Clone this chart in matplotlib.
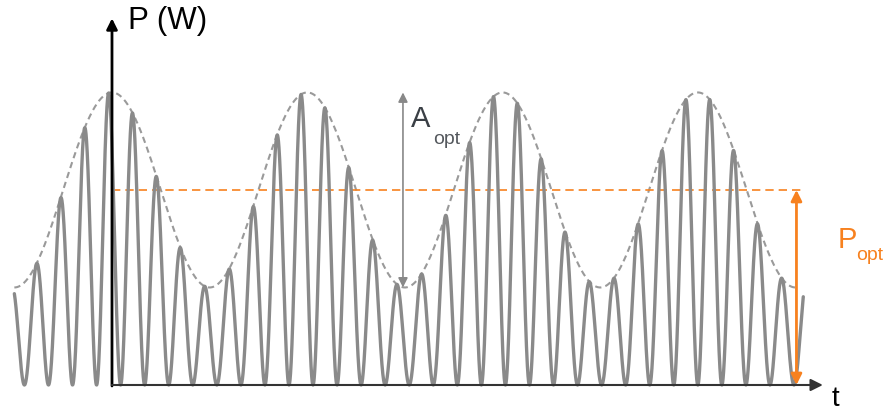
import numpy as np
import matplotlib
matplotlib.use("Agg")
import matplotlib.pyplot as plt

# --- chart parameters (schematic of modulated optical power) ---
P_opt = 1.0            # mean optical power (orange level)
A_opt = 1.0            # peak-to-peak envelope amplitude
env_periods = [-0.5, 3.5]   # envelope drawn from trough to trough
signal_span = [-0.5, 3.54]
carrier_cycles_per_period = 8.12
carrier_peak_phase = -0.51
x_axis_end = 3.64
y_axis_top = 1.88

labels = {"y": "P (W)", "x": "t", "A": "A", "P": "P", "sub": "opt"}

grey = "#8a8a8a"
orange = "#f7811f"

fig = plt.figure(figsize=(8.9, 4.13), dpi=100)
ax = fig.add_axes([0, 0, 1, 1])
ax.set_xlim(-0.5735, 3.984)
ax.set_ylim(-0.1436, 1.974)
ax.axis("off")

t_env = np.linspace(env_periods[0], env_periods[1], 2000)
env = P_opt + A_opt / 2 * np.cos(2 * np.pi * t_env)

t_sig = np.linspace(signal_span[0], signal_span[1], 6000)
env_s = P_opt + A_opt / 2 * np.cos(2 * np.pi * t_sig)
sig = env_s * (1 + np.cos(2 * np.pi * carrier_cycles_per_period * (t_sig - carrier_peak_phase))) / 2

ax.plot(t_sig, sig, color=grey, lw=2.4, zorder=3, solid_capstyle="round")
ax.plot(t_env, env, color="#9a9a9a", lw=1.5, ls=(0, (3, 2)), zorder=2)

# orange mean-power line
ax.plot([0, signal_span[1]], [P_opt, P_opt], color=orange, lw=1.2, ls=(0, (5, 3)), zorder=2)

# axes with arrows
ax.annotate("", xy=(0, y_axis_top), xytext=(0, -0.005),
            arrowprops=dict(arrowstyle="-|>", color="black", lw=2, mutation_scale=16,
                            shrinkA=0, shrinkB=0), zorder=5)
ax.annotate("", xy=(x_axis_end, 0), xytext=(0, 0),
            arrowprops=dict(arrowstyle="-|>", color="#333333", lw=1.5, mutation_scale=18,
                            shrinkA=0, shrinkB=0), zorder=5)

# A_opt arrow
xa = 1.49
ax.annotate("", xy=(xa, P_opt + A_opt / 2), xytext=(xa, P_opt - A_opt / 2),
            arrowprops=dict(arrowstyle="<|-|>", color="#888888", lw=1.2, mutation_scale=14,
                            shrinkA=0, shrinkB=0), zorder=4)
# P_opt arrow
xp = 3.505
ax.annotate("", xy=(xp, P_opt), xytext=(xp, 0),
            arrowprops=dict(arrowstyle="<|-|>", color=orange, lw=2, mutation_scale=16,
                            shrinkA=0, shrinkB=0), zorder=4)

font = "Liberation Sans"
ax.text(0.08, 1.865, labels["y"], fontsize=22.5, family=font, color="black", va="center", ha="left")
ax.text(3.685, -0.072, labels["x"], fontsize=20, family=font, color="black", va="center", ha="left")
ax.text(1.53, 1.365, labels["A"], fontsize=21, family=font, color="#3a3f45", va="center", ha="left")
ax.text(1.643, 1.26, labels["sub"], fontsize=14, family=font, color="#55595e", va="center", ha="left")
ax.text(3.715, 0.745, labels["P"], fontsize=21, family=font, color=orange, va="center", ha="left")
ax.text(3.81, 0.665, labels["sub"], fontsize=14, family=font, color=orange, va="center", ha="left")

fig.savefig("out.png", dpi=100)
